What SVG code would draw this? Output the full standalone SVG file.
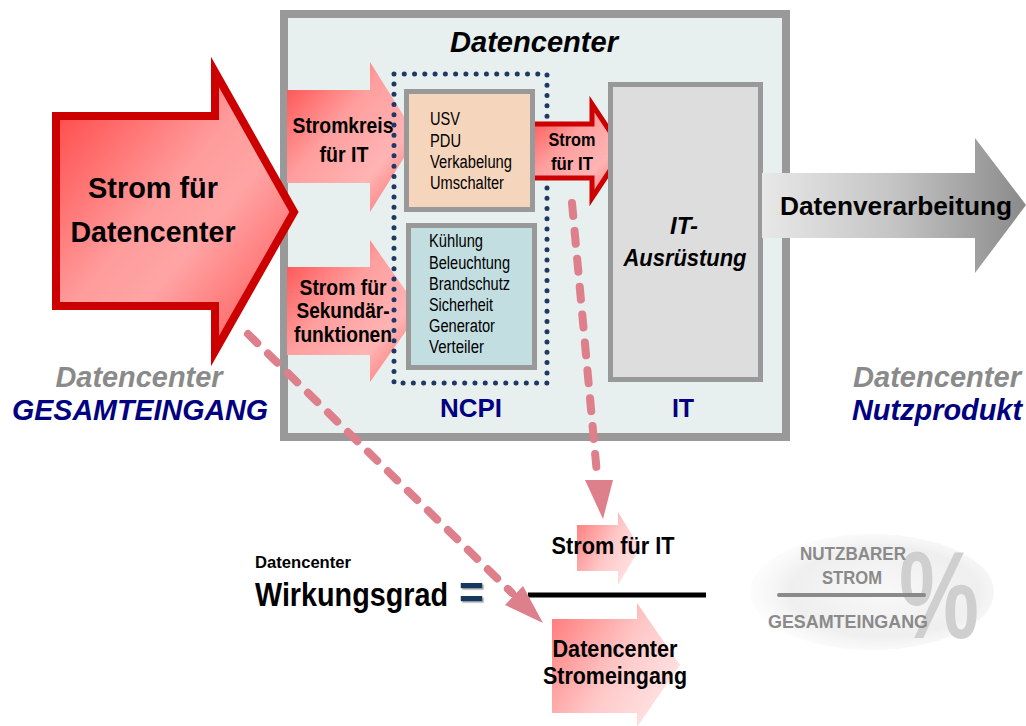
<svg xmlns="http://www.w3.org/2000/svg" width="1026" height="726" viewBox="0 0 1026 726">
<defs>
<linearGradient id="gBig" x1="0" y1="0" x2="1" y2="1">
<stop offset="0" stop-color="#FF3C3C"/><stop offset="0.45" stop-color="#FF9C9C"/><stop offset="0.6" stop-color="#FFA4A4"/><stop offset="1" stop-color="#FF4A4A"/>
</linearGradient>
<linearGradient id="gPink" x1="0" y1="0" x2="1" y2="1">
<stop offset="0" stop-color="#FF4444"/><stop offset="0.4" stop-color="#FF9E9E"/><stop offset="0.7" stop-color="#FFB4B4"/><stop offset="1" stop-color="#FF5A5A"/>
</linearGradient>
<linearGradient id="gLight" x1="0" y1="0" x2="1" y2="0.6">
<stop offset="0" stop-color="#FF7676"/><stop offset="0.6" stop-color="#FFC8C8"/><stop offset="1" stop-color="#FFE2E2"/>
</linearGradient>
<linearGradient id="gGray" x1="0" y1="0" x2="1" y2="0">
<stop offset="0" stop-color="#E8E8E8"/><stop offset="0.5" stop-color="#C4C4C4"/><stop offset="1" stop-color="#8A8A8A"/>
</linearGradient>
<radialGradient id="gEll" cx="0.55" cy="0.5" r="0.55">
<stop offset="0" stop-color="#F8F8F8"/><stop offset="0.7" stop-color="#EFEFEF"/><stop offset="1" stop-color="#F6F6F6" stop-opacity="0.3"/>
</radialGradient>
<filter id="shadow" x="-20%" y="-20%" width="150%" height="150%">
<feDropShadow dx="1.5" dy="1.5" stdDeviation="0.6" flood-color="#A0A0A0" flood-opacity="0.9"/>
</filter>
<style>
.b{font-family:"Liberation Sans",Arial,sans-serif;font-weight:bold;}
.r{font-family:"Liberation Sans",Arial,sans-serif;}
.bi{font-family:"Liberation Sans",Arial,sans-serif;font-weight:bold;font-style:italic;}
.box{stroke:#999999;}
.dash{fill:none;stroke:#DE7F8C;stroke-width:8;stroke-linecap:round;stroke-dasharray:13 15;}
.head{fill:#DE7F8C;}
.navy{fill:#000080;}
</style>
</defs>

<g id="datacenter">
<rect x="284" y="14" width="502" height="423" fill="#E7EFEF" stroke="#999999" stroke-width="8"/>
<text class="bi" x="534" y="52" font-size="30" text-anchor="middle" textLength="168" lengthAdjust="spacingAndGlyphs">Datencenter</text>
</g>

<g id="gesamteingang-arrow">
<polygon points="56,116 215,116 215,72 294,212 215,351 215,306 56,306" fill="url(#gBig)" stroke="#CC0000" stroke-width="8" stroke-linejoin="miter"/>
<text class="b" x="153" y="198" font-size="30" text-anchor="middle" textLength="130" lengthAdjust="spacingAndGlyphs">Strom für</text>
<text class="b" x="153" y="242" font-size="30" text-anchor="middle" textLength="165" lengthAdjust="spacingAndGlyphs">Datencenter</text>
</g>

<g id="label-gesamteingang">
<text class="bi" x="139" y="387" font-size="29" text-anchor="middle" fill="#8A8A8A" textLength="167" lengthAdjust="spacingAndGlyphs">Datencenter</text>
<text class="bi" x="140" y="420" font-size="29" text-anchor="middle" fill="#000080" textLength="256" lengthAdjust="spacingAndGlyphs">GESAMTEINGANG</text>
</g>

<g id="stromkreis-arrow">
<polygon points="287,90 370,90 370,62 417,137 370,212 370,183 287,183" fill="url(#gPink)"/>
<text class="b" x="343" y="133" font-size="22" text-anchor="middle" textLength="101" lengthAdjust="spacingAndGlyphs">Stromkreis</text>
<text class="b" x="344" y="162" font-size="22" text-anchor="middle" textLength="49" lengthAdjust="spacingAndGlyphs">für IT</text>
</g>

<g id="sekundaer-arrow">
<polygon points="287,267 370,267 370,240 420,311 370,382 370,355 287,355" fill="url(#gPink)"/>
<text class="b" x="343" y="295" font-size="22" text-anchor="middle" textLength="87" lengthAdjust="spacingAndGlyphs">Strom für</text>
<text class="b" x="343" y="318" font-size="22" text-anchor="middle" textLength="93" lengthAdjust="spacingAndGlyphs">Sekundär-</text>
<text class="b" x="343" y="342" font-size="22" text-anchor="middle" textLength="98" lengthAdjust="spacingAndGlyphs">funktionen</text>
</g>

<g id="ncpi">
<rect x="394" y="74" width="153" height="309" fill="none" stroke="#1F3864" stroke-width="5" stroke-linecap="round" stroke-dasharray="0 10.27"/>
<text class="b navy" x="471" y="417" font-size="25" text-anchor="middle" textLength="62" lengthAdjust="spacingAndGlyphs">NCPI</text>
</g>

<g id="strom-it-arrow">
<polygon points="530,124 592,124 592,104 623,151 592,198 592,178 530,178" fill="url(#gPink)" stroke="#CC0000" stroke-width="5"/>
<text class="b" x="572" y="146" font-size="19" text-anchor="middle" textLength="47" lengthAdjust="spacingAndGlyphs">Strom</text>
<text class="b" x="572" y="170" font-size="19" text-anchor="middle" textLength="42" lengthAdjust="spacingAndGlyphs">für IT</text>
</g>

<g id="usv-box">
<rect class="box" x="406.5" y="91.5" width="126" height="118" fill="#F6D5BD" stroke-width="5"/>
<text class="r" x="430" y="125" font-size="18" textLength="30" lengthAdjust="spacingAndGlyphs">USV</text>
<text class="r" x="430" y="147" font-size="18" textLength="31" lengthAdjust="spacingAndGlyphs">PDU</text>
<text class="r" x="430" y="168" font-size="18" textLength="82" lengthAdjust="spacingAndGlyphs">Verkabelung</text>
<text class="r" x="430" y="189" font-size="18" textLength="74" lengthAdjust="spacingAndGlyphs">Umschalter</text>
</g>

<g id="sekundaer-box">
<rect class="box" x="408.5" y="225.5" width="126" height="142" fill="#C3DEE1" stroke-width="5"/>
<text class="r" x="429" y="247" font-size="18" textLength="54" lengthAdjust="spacingAndGlyphs">Kühlung</text>
<text class="r" x="429" y="269" font-size="18" textLength="81" lengthAdjust="spacingAndGlyphs">Beleuchtung</text>
<text class="r" x="429" y="290" font-size="18" textLength="81" lengthAdjust="spacingAndGlyphs">Brandschutz</text>
<text class="r" x="429" y="311" font-size="18" textLength="64" lengthAdjust="spacingAndGlyphs">Sicherheit</text>
<text class="r" x="429" y="332" font-size="18" textLength="66" lengthAdjust="spacingAndGlyphs">Generator</text>
<text class="r" x="429" y="353" font-size="18" textLength="55" lengthAdjust="spacingAndGlyphs">Verteiler</text>
</g>

<g id="it-box">
<rect class="box" x="610.5" y="84.5" width="150" height="295" fill="#DDDDDD" stroke-width="5"/>
<text class="bi" x="684" y="234" font-size="23" text-anchor="middle" textLength="28" lengthAdjust="spacingAndGlyphs">IT-</text>
<text class="bi" x="685" y="266" font-size="23" text-anchor="middle" textLength="123" lengthAdjust="spacingAndGlyphs">Ausrüstung</text>
<text class="b navy" x="683" y="417" font-size="25" text-anchor="middle">IT</text>
</g>

<g id="datenverarbeitung-arrow">
<polygon points="762,173 975,173 975,138 1026,205 975,273 975,238 762,238" fill="url(#gGray)"/>
<text class="b" x="896" y="215" font-size="25" text-anchor="middle" textLength="232" lengthAdjust="spacingAndGlyphs">Datenverarbeitung</text>
</g>

<g id="label-nutzprodukt">
<text class="bi" x="1021" y="387" font-size="29" text-anchor="end" fill="#8A8A8A" textLength="168" lengthAdjust="spacingAndGlyphs">Datencenter</text>
<text class="bi" x="1022" y="420" font-size="29" text-anchor="end" fill="#000080" textLength="170" lengthAdjust="spacingAndGlyphs">Nutzprodukt</text>
</g>

<g id="formula">
<text class="b" x="255" y="568" font-size="17" textLength="96" lengthAdjust="spacingAndGlyphs">Datencenter</text>
<text class="b" x="255" y="606" font-size="33" textLength="193" lengthAdjust="spacingAndGlyphs">Wirkungsgrad</text>
<text class="b" x="459" y="609" font-size="48" fill="#17375E" filter="url(#shadow)" textLength="25" lengthAdjust="spacingAndGlyphs">=</text>
<line x1="528" y1="595" x2="706" y2="595" stroke="#000000" stroke-width="5"/>
</g>

<g id="numerator">
<polygon points="577,525 618,525 618,512 640,548 618,585 618,571 577,571" fill="url(#gLight)"/>
<text class="b" x="613" y="554" font-size="23" text-anchor="middle" textLength="123" lengthAdjust="spacingAndGlyphs">Strom für IT</text>
</g>

<g id="denominator">
<polygon points="552,619 637,619 637,603 680,665 637,727 637,713 552,713" fill="url(#gLight)"/>
<text class="b" x="615" y="657" font-size="23" text-anchor="middle" textLength="125" lengthAdjust="spacingAndGlyphs">Datencenter</text>
<text class="b" x="615" y="684" font-size="23" text-anchor="middle" textLength="144" lengthAdjust="spacingAndGlyphs">Stromeingang</text>
</g>

<g id="percent-badge">
<ellipse cx="872" cy="592" rx="122" ry="58" fill="url(#gEll)"/>
<text class="b" x="899" y="638" font-size="124" fill="#CFCFCF" textLength="80" lengthAdjust="spacingAndGlyphs">%</text>
<text class="b" x="853" y="560" font-size="18" text-anchor="middle" fill="#8A8A8A" textLength="106" lengthAdjust="spacingAndGlyphs">NUTZBARER</text>
<text class="b" x="852" y="584" font-size="18" text-anchor="middle" fill="#8A8A8A" textLength="60" lengthAdjust="spacingAndGlyphs">STROM</text>
<line x1="779" y1="595" x2="924" y2="595" stroke="#8A8A8A" stroke-width="4" stroke-linecap="round"/>
<text class="b" x="848" y="628" font-size="18" text-anchor="middle" fill="#8A8A8A" textLength="160" lengthAdjust="spacingAndGlyphs">GESAMTEINGANG</text>
</g>

<g id="connectors">
<path class="dash" d="M248,334 L512,593"/>
<polygon class="head" points="505,605 523,586 543,623"/>
<path class="dash" d="M572,203 L597,474"/>
<polygon class="head" points="585,480 613,480 603,519"/>
</g>
</svg>
